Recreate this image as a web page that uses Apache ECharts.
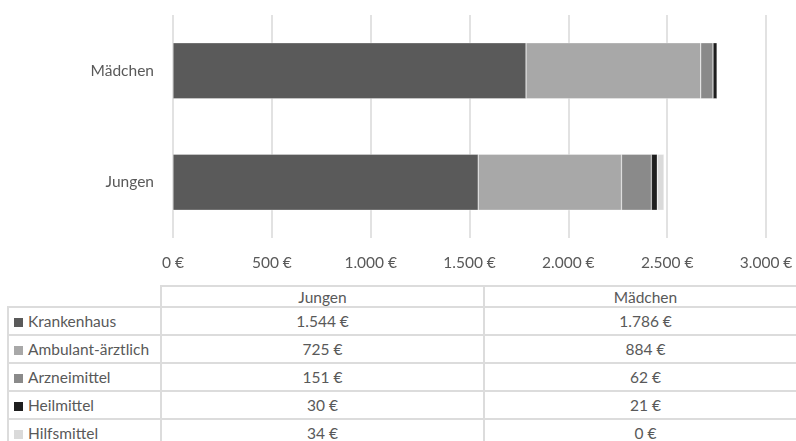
<!DOCTYPE html>
<html>
<head>
<meta charset="utf-8">
<script src="https://cdn.jsdelivr.net/npm/echarts@6/dist/echarts.min.js"></script>
<style>
  body { margin: 0; background: #fff; font-family: Lato, "Open Sans", sans-serif; }
  .wrapper { position: relative; width: 796px; height: 441px; overflow: hidden; }
  #chart { position: absolute; left: 0; top: 0; width: 796px; height: 282px; }
  table.data {
    position: absolute; left: 7px; top: 285px; width: 799px;
    border-collapse: collapse; table-layout: fixed;
    color: #595959; font-size: 15.5px;
  }
  table.data td { border: 2px solid #dcdcdc; height: 26px; padding: 0; text-align: center; white-space: nowrap; }
  table.data tr.head td { height: 19px; }
  table.data td.name { text-align: left; padding-left: 5px; }
  table.data td.blank { border-left-color: transparent; border-top-color: transparent; }
  .mark { display: inline-block; width: 9px; height: 9px; margin-right: 5px; vertical-align: 0px; }
</style>
</head>
<body>
<div class="wrapper">
  <div id="chart"></div>
  <table class="data" id="tbl"></table>
</div>
<script>
  // Kategorien (unten nach oben)
  var categories = ['Jungen', 'Mädchen'];
  var seriesNames = ['Krankenhaus', 'Ambulant-ärztlich', 'Arzneimittel', 'Heilmittel', 'Hilfsmittel'];
  var colors = ['#5a5a5a', '#a8a8a8', '#8a8a8a', '#1e1e1e', '#dadada'];
  // Werte je Kategorie: [Jungen, Mädchen]
  var krankenhaus = [1544, 1786];
  var ambulant = [725, 884];
  var arznei = [151, 62];
  var heilmittel = [30, 21];
  var hilfsmittel = [34, 0];
  var xTicks = [0, 500, 1000, 1500, 2000, 2500, 3000];

  var values = [krankenhaus, ambulant, arznei, heilmittel, hilfsmittel];

  function euro(v) {
    var s = String(Math.round(v)).replace(/\B(?=(\d{3})+(?!\d))/g, '.');
    return s + '\u202F€';
  }

  var myChart = echarts.init(document.getElementById('chart'));
  myChart.setOption({
    animation: false,
    textStyle: { fontFamily: 'Lato' },
    grid: { left: 173, right: 30, top: 15, height: 223 },
    xAxis: {
      type: 'value',
      min: xTicks[0],
      max: xTicks[xTicks.length - 1],
      interval: 500,
      axisLine: { show: false },
      axisTick: { show: false },
      splitLine: { show: true, lineStyle: { color: '#d9d9d9', width: 1.5 } },
      axisLabel: { color: '#595959', fontSize: 15.5, margin: 17, formatter: euro }
    },
    yAxis: {
      type: 'category',
      data: categories,
      axisLine: { show: false },
      axisTick: { show: false },
      axisLabel: { color: '#595959', fontSize: 15.5, margin: 19 }
    },
    series: seriesNames.map(function (name, i) {
      return {
        name: name,
        type: 'bar',
        stack: 'kosten',
        barWidth: 56,
        itemStyle: { color: colors[i], borderColor: 'rgba(255,255,255,0.6)', borderWidth: 0.5 },
        data: values[i]
      };
    })
  });

  // Datentabelle unter dem Diagramm
  var tbl = document.getElementById('tbl');
  var html = '<colgroup><col style="width:153px"><col style="width:323px"><col style="width:323px"></colgroup>';
  html += '<tr class="head"><td class="blank"></td>';
  categories.forEach(function (c) { html += '<td>' + c + '</td>'; });
  html += '</tr>';
  seriesNames.forEach(function (name, i) {
    html += '<tr><td class="name"><span class="mark" style="background:' + colors[i] + '"></span>' + name + '</td>';
    values[i].forEach(function (v) { html += '<td>' + euro(v) + '</td>'; });
    html += '</tr>';
  });
  tbl.innerHTML = html;
</script>
</body>
</html>
